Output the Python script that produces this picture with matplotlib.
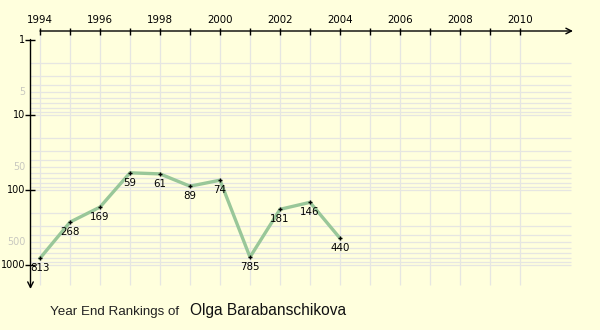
"""
Year end rankings chart, drawn in the old web-chart style with hand-made axes.
"""
import matplotlib.pyplot as plt

# Ranking data, one value per year.
YEARS = [1994, 1995, 1996, 1997, 1998, 1999, 2000, 2001, 2002, 2003, 2004]
RANKS = [813, 268, 169, 59, 61, 89, 74, 785, 181, 146, 440]

# Axis ticks and labels.
TICK_YEARS = list(range(1994, 2011))
LABEL_YEARS = list(range(1994, 2011, 2))
MAJOR_RANKS = [1, 10, 100, 1000]
FAINT_RANKS = [5, 50, 500]
GRID_RANKS = [m * 10 ** e for e in range(3) for m in range(2, 10)] + [10, 100, 1000]

PLAYER = "Olga Barabanschikova"

BG = "#ffffdd"
GRID = "#e6e6e2"
LINE = "#99c799"

# Pixel layout: 1994 sits at x=40 px, 30 px per year; rank 1 at y=40 px, 75 px per decade.
W, H = 600, 330
PX_YEAR, X0_PX, X0_YEAR = 30.0, 40.0, 1994
PX_DECADE, Y0_PX = 75.0, 40.0


def px_year(px: float) -> float:
    """Year value at horizontal pixel px."""
    return X0_YEAR + (px - X0_PX) / PX_YEAR


def px_rank(py: float) -> float:
    """Rank value at vertical pixel py (from the top)."""
    return 10 ** ((py - Y0_PX) / PX_DECADE)


fig = plt.figure(figsize=(W / 100, H / 100), dpi=100, facecolor=BG)
ax = fig.add_axes([0, 0, 1, 1], facecolor=BG)
ax.set_yscale("log")
ax.set_xlim(px_year(0), px_year(W))
ax.set_ylim(px_rank(H), px_rank(0))
ax.axis("off")

font = dict(family="DejaVu Sans", fontsize=7.4)
yfont = dict(family="DejaVu Sans", fontsize=6.9)

# Grid lines.
ax.hlines(GRID_RANKS, px_year(30), px_year(571), color=GRID, lw=0.9, zorder=1)
ax.vlines(TICK_YEARS, px_rank(31), px_rank(285), color=GRID, lw=0.9, zorder=1)

# X axis along the top with an arrow head.
ax.annotate("", xy=(px_year(573), px_rank(31)), xytext=(px_year(40), px_rank(31)),
            arrowprops=dict(arrowstyle="->", color="black", lw=1.0,
                            shrinkA=0, shrinkB=0, mutation_scale=10), zorder=3)
ax.vlines(TICK_YEARS, px_rank(28), px_rank(34.5), color="black", lw=1.0, zorder=3)
for year in LABEL_YEARS:
    ax.text(year, px_rank(20), str(year), ha="center", va="center", **font)

# Y axis down the left with an arrow head.
ax.annotate("", xy=(px_year(30.5), px_rank(289)), xytext=(px_year(30.5), px_rank(39.5)),
            arrowprops=dict(arrowstyle="->", color="black", lw=1.0,
                            shrinkA=0, shrinkB=0, mutation_scale=10), zorder=3)
ax.hlines(MAJOR_RANKS, px_year(25), px_year(35.5), color="black", lw=1.0, zorder=3)
for rank in MAJOR_RANKS:
    ax.text(px_year(25.5), rank, str(rank), ha="right", va="center", **yfont)
for rank in FAINT_RANKS:
    ax.text(px_year(25.5), rank, str(rank), ha="right", va="center", color="#c8c8c0", **yfont)

# Ranking line, points and value labels.
ax.plot(YEARS, RANKS, color=LINE, lw=2.4, solid_joinstyle="round", zorder=4)
ax.plot(YEARS, RANKS, ls="none", marker="+", ms=3, mew=1.0, color="black", zorder=5)
for year, rank in zip(YEARS, RANKS):
    ax.annotate(str(rank), (year, rank), xytext=(0, -7), textcoords="offset points",
                ha="center", va="center", zorder=6, **font)

# Caption at the bottom.
fig.text(50 / W, 1 - 315 / H, "Year End Rankings of", ha="left", va="baseline",
         family="Liberation Sans", fontsize=9.6, color="#222222")
fig.text(190 / W, 1 - 315 / H, PLAYER, ha="left", va="baseline",
         family="Liberation Sans", fontsize=11.2, color="#111111")

fig.savefig("out.png", dpi=100, facecolor=BG)
